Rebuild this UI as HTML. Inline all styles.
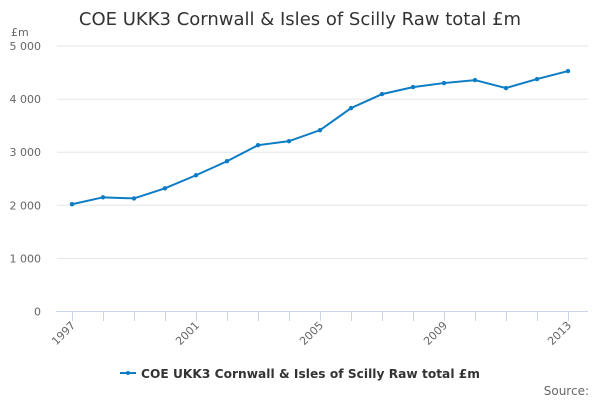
<!DOCTYPE html>
<html><head><meta charset="utf-8"><style>
body{margin:0;background:#fff;}
svg{display:block;font-family:"DejaVu Sans","Liberation Sans",sans-serif;}
</style></head><body>
<svg id="c" width="600" height="400">
<text x="300" y="25" text-anchor="middle" font-size="18" fill="#333">COE UKK3 Cornwall &amp; Isles of Scilly Raw total £m</text>
<text x="11" y="36" font-size="11" fill="#666">£m</text>
<g id="grid"></g><g id="xaxis"></g><g id="series"></g>
<g>
<line x1="120" y1="373" x2="136" y2="373" stroke="#0c7cc5" stroke-width="2"/>
<circle cx="128" cy="373" r="2" fill="#0c7cc5"/>
<text x="141" y="378" font-size="12.2" font-weight="bold" fill="#333" textLength="339">COE UKK3 Cornwall &amp; Isles of Scilly Raw total £m</text>
</g>
<text x="589" y="395" text-anchor="end" font-size="12" fill="#666">Source:</text>
</svg>
<script>
const years=[1997,1998,1999,2000,2001,2002,2003,2004,2005,2006,2007,2008,2009,2010,2011,2012,2013];
const values=[2020,2150,2130,2320,2566,2830,3132,3208,3415,3830,4094,4226,4302,4358,4208,4377,4528];
const yTicks=[0,1000,2000,3000,4000,5000];
const yTickLabels=["0","1 000","2 000","3 000","4 000","5 000"];
const xLabels=["1997","2001","2005","2009","2013"];
const NS="http://www.w3.org/2000/svg";
const x=yr=>72+(yr-1997)*31;
const y=v=>311.5-v*0.0531;
function mk(t,a,p){const e=document.createElementNS(NS,t);for(const k in a)e.setAttribute(k,a[k]);p.appendChild(e);return e;}
const g=document.getElementById('grid');
yTicks.forEach((v,i)=>{
 if(v>0){const l=mk('line',{x1:57,x2:588,y1:y(v),y2:y(v),stroke:'#e6e6e6'},g);
 
 }
 const t=mk('text',{x:41,y:y(v)+4,'text-anchor':'end','font-size':11,fill:'#666'},g);
 t.textContent=yTickLabels[i];
 
 
});
const xa=document.getElementById('xaxis');
const al=mk('line',{x1:56,x2:588,y1:311.5,y2:311.5,stroke:'#ccd6eb'},xa);


years.forEach(yr=>{const tk=mk('line',{x1:x(yr)+.5,x2:x(yr)+.5,y1:311,y2:321,stroke:'#ccd6eb'},xa);
 
 });
xLabels.forEach(s=>{const xx=x(+s);const t=mk('text',{x:xx+4,y:326,'text-anchor':'end','font-size':11,fill:'#666',transform:`rotate(-45 ${xx+4} 326)`},xa);
 t.textContent=s;
 
 });
const s=document.getElementById('series');
const pl=mk('polyline',{points:years.map((yr,i)=>x(yr)+','+y(values[i])).join(' '),fill:'none',stroke:'#0c7cc5','stroke-width':2},s);


years.forEach((yr,i)=>{const c=mk('circle',{cx:x(yr),cy:y(values[i]),r:2.2,fill:'#0c7cc5'},s);
 
 });
</script>
</body></html>
